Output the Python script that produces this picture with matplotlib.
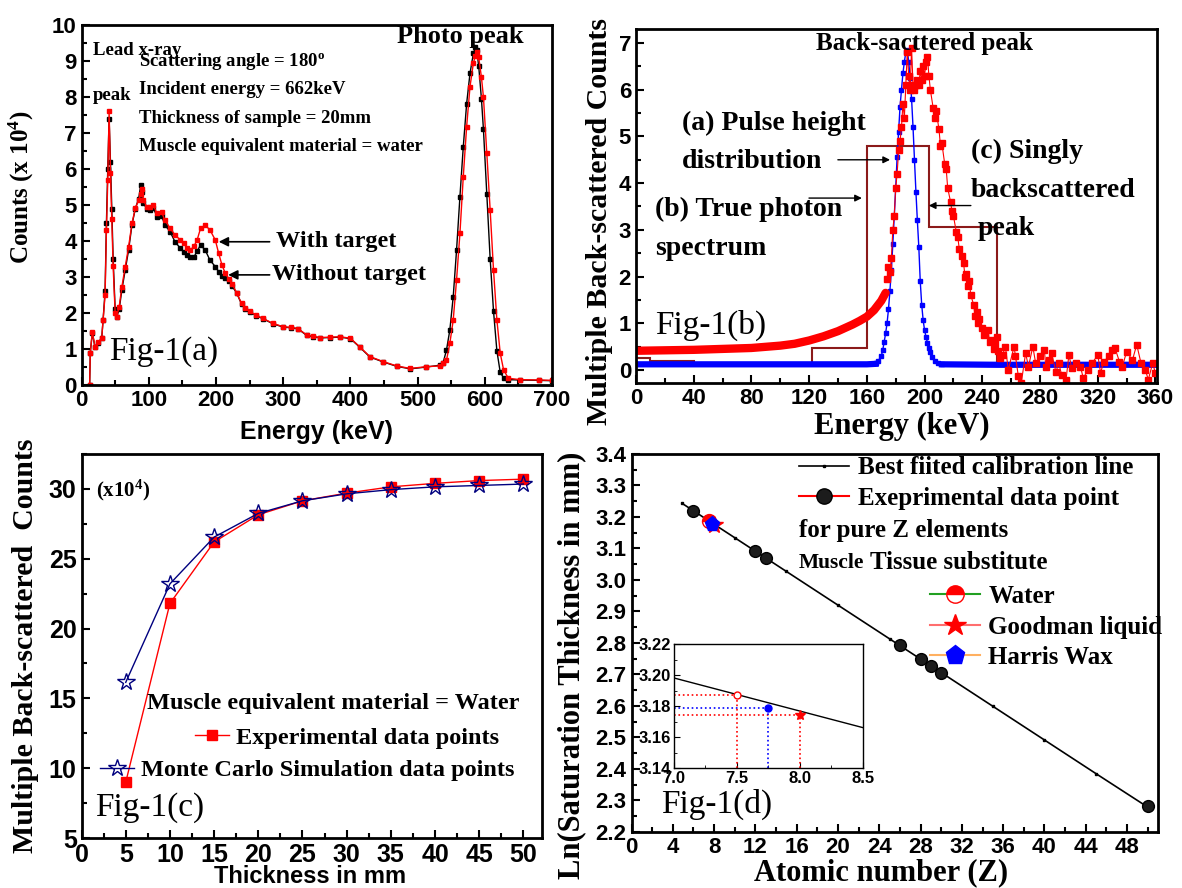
import matplotlib
matplotlib.use('Agg')
import matplotlib.pyplot as plt
from matplotlib.ticker import MultipleLocator
from matplotlib.lines import Line2D

SERIF = 'Liberation Serif'
SANS = 'Liberation Sans'
plt.rcParams['font.family'] = [SANS, 'DejaVu Sans']
plt.rcParams['font.weight'] = 'bold'
plt.rcParams['axes.labelweight'] = 'bold'
plt.rcParams['mathtext.default'] = 'regular'

# ---------------- Fig-1(a): spectra with / without target (counts x 1e4)
energy_a = [12, 13, 16, 20, 25, 30, 32, 35, 37, 39,
            41, 43, 45, 47, 50, 52, 56, 60, 65, 70,
            75, 80, 85, 88, 90, 92, 97, 102, 107, 112,
            119, 124, 132, 139, 147, 152, 157, 162, 167, 172,
            177, 184, 191, 199, 204, 209, 214, 219, 224, 231,
            238, 243, 250, 260, 270, 285, 300, 312, 322, 335,
            345, 355, 370, 385, 400, 414, 429, 449, 469, 489,
            513, 533, 538, 543, 548, 553, 558, 563, 568, 573,
            578, 583, 586, 588, 591, 595, 598, 603, 608, 613,
            618, 623, 628, 635, 652, 680, 700]
with_target = [0, 0.9, 1.48, 1.06, 1.2, 1.3, 1.8, 2.5, 4.3, 5.7,
               7.6, 5.9, 4.6, 3.3, 2.0, 1.9, 2.18, 2.73, 3.29, 3.84,
               4.49, 4.91, 5.14, 5.3, 5.45, 5.14, 4.95, 4.95, 5.0, 4.77,
               4.81, 4.58, 4.35, 4.17, 4.03, 3.94, 3.8, 3.75, 3.85, 4.03,
               4.35, 4.44, 4.31, 4.03, 3.66, 3.33, 3.1, 2.95, 2.82, 2.55,
               2.27, 2.13, 2.05, 1.94, 1.85, 1.71, 1.62, 1.6, 1.57, 1.39,
               1.35, 1.32, 1.33, 1.34, 1.3, 1.06, 0.79, 0.65, 0.53, 0.46,
               0.51, 0.53, 0.6, 0.69, 1.16, 1.8, 2.92, 4.21, 5.79, 7.18,
               8.29, 8.94, 9.15, 9.26, 9.1, 8.55, 8.0, 6.44, 4.86, 3.19,
               1.81, 0.88, 0.42, 0.19, 0.15, 0.14, 0.13]
without_target = [0, 0.9, 1.45, 1.05, 1.18, 1.3, 1.8, 2.6, 4.5, 6.0,
                  7.4, 6.2, 4.9, 3.5, 2.1, 1.88, 2.1, 2.65, 3.2, 3.75,
                  4.45, 4.9, 5.18, 5.55, 5.35, 5.05, 4.9, 4.85, 4.92, 4.68,
                  4.7, 4.45, 4.25, 3.98, 3.8, 3.7, 3.6, 3.56, 3.55, 3.72,
                  3.89, 3.75, 3.47, 3.29, 3.15, 3.03, 2.96, 2.9, 2.75, 2.55,
                  2.25, 2.12, 2.03, 1.93, 1.84, 1.7, 1.61, 1.59, 1.56, 1.38,
                  1.34, 1.31, 1.32, 1.33, 1.29, 1.05, 0.78, 0.64, 0.52, 0.45,
                  0.5, 0.55, 0.62, 0.97, 1.53, 2.45, 3.75, 5.23, 6.62, 7.82,
                  8.66, 9.21, 9.38, 9.3, 8.85, 7.95, 7.1, 5.3, 3.5, 2.05,
                  0.95, 0.35, 0.2, 0.15, 0.14, 0.13, 0.12]

# ---------------- Fig-1(b): back-scattered spectra
photon_e = [0, 20, 40, 60, 80, 100, 110, 120, 130, 140, 150, 155, 160, 165, 170, 173]
photon_counts = [0.41, 0.42, 0.43, 0.45, 0.47, 0.52, 0.56, 0.63, 0.72, 0.83,
                 0.97, 1.05, 1.14, 1.28, 1.48, 1.65]
meas_e = [174, 175, 176, 177, 178, 179, 180, 181, 182, 183,
          184, 185, 186, 187, 188, 189, 190, 191, 192, 193,
          194, 195, 196, 197, 198, 199, 200, 201, 202, 203,
          204, 206, 207, 208, 210, 211, 212, 214, 215, 216,
          218, 219, 220, 222, 223, 224, 226, 227, 228, 229,
          230, 231, 232, 234, 235, 236, 237, 238, 240, 241,
          242, 244, 245, 246, 248, 249, 250, 251, 252,
          254, 256, 258, 262, 263, 265, 267, 270, 272, 275,
          277, 280, 283, 284, 286, 288, 291, 293, 295, 298,
          300, 302, 305, 308, 310, 313, 316, 320, 322, 324,
          328, 330, 332, 335, 337, 340, 344, 347, 350, 353,
          355, 358, 360]
meas_counts = [1.95, 2.2, 2.1, 2.4, 3.0, 3.3, 3.9, 4.2, 4.7, 4.9,
               5.2, 5.7, 5.4, 6.1, 6.8, 6.3, 6.0, 6.9, 6.1, 6.0,
               6.1, 6.2, 6.1, 6.4, 6.2, 6.5, 6.3, 6.6, 6.7, 6.3,
               6.0, 5.6, 5.4, 5.55, 5.15, 4.8, 4.85, 4.4, 4.3, 3.9,
               3.6, 3.4, 3.3, 2.95, 2.85, 2.6, 2.45, 2.3, 2.0, 2.05,
               1.8, 1.9, 1.6, 1.4, 1.15, 1.25, 1.0, 1.1, 0.9, 0.75,
               0.8, 0.85, 0.6, 0.65, 0.45, 0.55, 0.7, 0.4, 0.25,
               0.32, 0.5, 0.0, 0.5, 0.29, -0.14, -0.28, 0.36, 0.07, 0.5,
               0.14, 0.29, 0.43, 0.07, 0.21, 0.36, -0.04, 0.14, -0.11, -0.21,
               0.32, 0.04, 0.14, 0.07, -0.18, 0.0, 0.14, 0.32, -0.07, 0.18,
               0.29, 0.43, 0.46, 0.18, 0.07, 0.39, 0.21, 0.54, 0.14, 0.0,
               -0.21, 0.14, -0.07]
single_base_left_e = [0, 40, 80, 120, 160, 166]
single_base_left = [0.12, 0.12, 0.12, 0.12, 0.12, 0.13]
single_peak_e = [166, 168, 170, 171, 172, 173, 174, 175, 176, 177,
                 178, 179, 180, 181, 182, 183, 184, 185, 186, 187,
                 188, 189, 190, 191, 192, 193, 194, 195, 196, 197,
                 198, 199, 200, 201, 202, 203, 204, 205, 207, 209, 212]
single_peak = [0.14, 0.2, 0.3, 0.42, 0.6, 0.78, 1.0, 1.3, 1.7, 2.14,
               2.7, 3.29, 3.9, 4.57, 5.1, 5.64, 6.0, 6.35, 6.6, 6.8,
               6.85, 6.6, 6.25, 5.8, 5.2, 4.5, 3.82, 3.2, 2.64, 1.9,
               1.4, 1.07, 0.85, 0.71, 0.58, 0.48, 0.38, 0.28, 0.2, 0.15, 0.12]
single_base_right_e = [212, 250, 300, 362]
single_base_right = [0.12, 0.11, 0.11, 0.11]
pulse_edges = [0, 10, 40, 122, 160, 203, 250, 362]
pulse_counts = [0.25, 0.19, 0.12, 0.46, 4.8, 3.05, 0.12]

# ---------------- Fig-1(c): saturation curve (counts x 1e4)
thickness = [5, 10, 15, 20, 25, 30, 35, 40, 45, 50]
exp_counts = [9.0, 21.8, 26.2, 28.15, 29.15, 29.7, 30.15, 30.4, 30.6, 30.7]
mc_counts = [16.15, 23.2, 26.55, 28.25, 29.15, 29.65, 29.95, 30.15, 30.25, 30.35]

# ---------------- Fig-1(d): calibration
calib_z = [4.9, 10, 15, 20, 25, 30, 35, 40, 45, 50]
calib_ln = [3.243, 3.134, 3.027, 2.920, 2.813, 2.706, 2.599, 2.492, 2.385, 2.279]
pure_z = [6, 12, 13, 26, 28, 29, 30, 50]
pure_ln = [3.22, 3.092, 3.071, 2.793, 2.75, 2.728, 2.706, 2.281]
sub_names = ['Water', 'Goodman liquid', 'Harris Wax']
sub_z = [7.5, 8.0, 7.75]
sub_ln = [3.187, 3.174, 3.179]


def style(ax, xmaj, ymaj, size):
    ax.xaxis.set_major_locator(MultipleLocator(xmaj))
    ax.xaxis.set_minor_locator(MultipleLocator(xmaj / 2))
    ax.yaxis.set_major_locator(MultipleLocator(ymaj))
    ax.yaxis.set_minor_locator(MultipleLocator(ymaj / 2))
    ax.tick_params(which='both', direction='in', width=1.5, labelsize=size)
    ax.tick_params(which='major', length=6)
    ax.tick_params(which='minor', length=3.5)
    for sp in ax.spines.values():
        sp.set_linewidth(2)


def serif(ax, x, y, s, size, **kw):
    kw.setdefault('va', 'center')
    kw.setdefault('weight', 'bold')
    return ax.text(x, y, s, family=SERIF, fontsize=size, **kw)


fig = plt.figure(figsize=(11.82, 8.88), dpi=100)

# ================= (a)
ax = fig.add_axes([0.069, 0.5664, 0.398, 0.4054])
ax.plot(energy_a, without_target, color='black', lw=1, marker='s', ms=2.5)
ax.plot(energy_a, with_target, color='red', lw=1, marker='s', ms=2.5)
ax.set_xlim(0, 700)
ax.set_ylim(0, 10)
style(ax, 100, 1, 16)
ax.set_xlabel('Energy (keV)', fontsize=18)
ax.xaxis.set_label_coords(0.5, -0.13)
ax.xaxis.label.set_va('center')
ax.set_ylabel('Counts (x 10$^4$)', family=SERIF, fontsize=18)
ax.yaxis.set_label_coords(-0.127, 0.55)
ax.yaxis.label.set_va('center')
serif(ax, 17, 9.3, 'Lead x-ray', 13.5)
serif(ax, 17, 8.05, 'peak', 13.5)
serif(ax, 86, 8.98, 'Scattering angle = 180$^{o}$', 13.5)
serif(ax, 86, 8.21, 'Incident energy = 662keV', 13.5)
serif(ax, 86, 7.41, 'Thickness of sample = 20mm', 13.5)
serif(ax, 86, 6.62, 'Muscle equivalent material = water', 13.5)
serif(ax, 469, 9.67, 'Photo peak', 19)
serif(ax, 290, 3.98, 'With target', 17.5)
serif(ax, 283, 3.06, 'Without target', 17.5)
ax.annotate('', xy=(200, 3.98), xytext=(284, 3.98),
            arrowprops=dict(arrowstyle='-|>', color='black', lw=1.2, mutation_scale=14))
ax.annotate('', xy=(214, 3.06), xytext=(284, 3.06),
            arrowprops=dict(arrowstyle='-|>', color='black', lw=1.2, mutation_scale=14))
serif(ax, 41, 0.93, 'Fig-1(a)', 24, weight='normal')

# ================= (b)
ax = fig.add_axes([0.538, 0.5687, 0.4408, 0.3986])
ax.stairs(pulse_counts, pulse_edges, baseline=None, color='#8B1A1A', lw=1.5)
ax.plot(single_base_left_e, single_base_left, color='blue', lw=4.5)
ax.plot(single_base_right_e, single_base_right, color='blue', lw=4.5)
ax.plot(single_peak_e, single_peak, color='blue', lw=1, marker='s', ms=3.5)
ax.plot(photon_e, photon_counts, color='red', lw=6, solid_capstyle='round')
ax.plot(meas_e, meas_counts, color='red', lw=0.8, marker='s', ms=4)
ax.set_xlim(0, 361)
ax.set_ylim(-0.28, 7.3)
style(ax, 40, 1, 16)
ax.set_xlabel('Energy (keV)', family=SERIF, fontsize=22)
ax.xaxis.set_label_coords(0.51, -0.124)
ax.xaxis.label.set_va('center')
ax.set_ylabel('Multiple Back-scattered Counts', family=SERIF, fontsize=21.5)
ax.yaxis.set_label_coords(-0.069, 0.455)
ax.yaxis.label.set_va('center')
serif(ax, 124.5, 7.0, 'Back-sacttered peak', 18)
serif(ax, 32, 5.28, '(a) Pulse height', 20)
serif(ax, 32, 4.46, 'distribution', 20)
serif(ax, 13, 3.43, '(b) True photon', 20)
serif(ax, 13, 2.61, 'spectrum', 20)
serif(ax, 232, 4.67, '(c) Singly', 20)
serif(ax, 232, 3.85, 'backscattered', 20)
serif(ax, 237, 3.03, 'peak', 20)
arrow_kw = dict(arrowstyle='-|>', color='black', lw=1, mutation_scale=10)
ax.annotate('', xy=(178, 4.5), xytext=(138, 4.5), arrowprops=arrow_kw)
ax.annotate('', xy=(158.5, 3.68), xytext=(118, 3.68), arrowprops=arrow_kw)
ax.annotate('', xy=(201, 3.52), xytext=(234, 3.52), arrowprops=arrow_kw)
serif(ax, 13, 0.96, 'Fig-1(b)', 24, weight='normal')

# ================= (c)
ax = fig.add_axes([0.069, 0.0563, 0.3895, 0.4324])
exp_line, = ax.plot(thickness, exp_counts, color='red', lw=1, marker='s', ms=7)
mc_line, = ax.plot(thickness, mc_counts, color='#00007F', lw=1, marker='*', ms=13,
                   mfc='none', mec='#00007F', mew=1)
ax.set_xlim(0, 52.1)
ax.set_ylim(5, 32.5)
style(ax, 5, 5, 18)
ax.set_xlabel('Thickness in mm', fontsize=17)
ax.xaxis.set_label_coords(0.496, -0.10)
ax.xaxis.label.set_va('center')
ax.set_ylabel('Multiple Back-scattered  Counts', family=SERIF, fontsize=21.5)
ax.yaxis.set_label_coords(-0.121, 0.5)
ax.yaxis.label.set_va('center')
serif(ax, 1.6, 29.9, '(x10$^4$)', 15)
serif(ax, 7.35, 14.6, 'Muscle equivalent material = Water', 17.5)
leg_kw = dict(frameon=False, borderpad=0, borderaxespad=0, handletextpad=0.3,
              prop=dict(family=SERIF, weight='bold', size=17.5))
leg1 = ax.legend([exp_line], ['Experimental data points'], loc='center left',
                 bbox_to_anchor=(0.246, 0.261), handlelength=1.4, **leg_kw)
ax.add_artist(leg1)
ax.legend([mc_line], ['Monte Carlo Simulation data points'], loc='center left',
          bbox_to_anchor=(0.039, 0.177), handlelength=1.4, **leg_kw)
serif(ax, 1.5, 7.2, 'Fig-1(c)', 24, weight='normal')

# ================= (d)
ax = fig.add_axes([0.5343, 0.0631, 0.4454, 0.4257])
calib_line, = ax.plot(calib_z, calib_ln, color='black', lw=1.2, marker='s', ms=2)
ax.plot(pure_z, pure_ln, ls='none', marker='o', ms=8.5, mfc='#1c1c1c', mec='black')
sub_styles = [dict(color='#22A022', marker='o', ms=10, fillstyle='top', mfc='red',
                   markerfacecoloralt='white', mec='red'),
              dict(color='#FF6E6E', marker='*', ms=13, mfc='red', mec='red'),
              dict(color='#FFB060', marker='p', ms=11, mfc='blue', mec='blue')]
sub_lines = []
for z, v, st in zip(sub_z, sub_ln, sub_styles):
    ln, = ax.plot([z], [v], lw=1.5, **st)
    sub_lines.append(ln)
ax.set_xlim(0, 51)
ax.set_ylim(2.2, 3.4)
style(ax, 4, 0.1, 16)
ax.yaxis.set_major_formatter(plt.FormatStrFormatter('%.1f'))
ax.set_xlabel('Atomic number (Z)', family=SERIF, fontsize=22)
ax.xaxis.set_label_coords(0.474, -0.108)
ax.xaxis.label.set_va('center')
ax.set_ylabel('Ln(Saturation Thickness in mm)', family=SERIF, fontsize=22)
ax.yaxis.set_label_coords(-0.113, 0.44)
ax.yaxis.label.set_va('center')
pure_proxy = Line2D([], [], color='red', lw=1.5, marker='o', ms=11,
                    mfc='#1c1c1c', mec='black')
leg_kw = dict(frameon=False, borderpad=0, borderaxespad=0, handletextpad=0.35,
              labelspacing=0.3, handlelength=2.0,
              prop=dict(family=SERIF, weight='bold', size=18))
leg1 = ax.legend([calib_line, pure_proxy],
                 ['Best fiited calibration line', 'Exeprimental data point'],
                 loc='center left', bbox_to_anchor=(0.318, 0.923), **leg_kw)
ax.add_artist(leg1)
ax.legend(sub_lines, sub_names, loc='center left', bbox_to_anchor=(0.566, 0.542),
          markerscale=1.25, **leg_kw)
serif(ax, 0.318, 0.797, 'for pure Z elements', 18, transform=ax.transAxes)
serif(ax, 0.318, 0.712, 'Muscle', 15.5, transform=ax.transAxes)
serif(ax, 0.452, 0.712, 'Tissue substitute', 18, transform=ax.transAxes)
serif(ax, 0.057, 0.072, 'Fig-1(d)', 24, weight='normal', transform=ax.transAxes)

# inset
ax_in = fig.add_axes([0.5702, 0.1351, 0.1599, 0.1396])
ax_in.plot(calib_z, calib_ln, color='black', lw=1)
in_colors = ['red', 'red', 'blue']
ax_in.hlines(sub_ln, 7.0, sub_z, colors=in_colors, linestyles=':', lw=1.2)
ax_in.vlines(sub_z, 3.14, sub_ln, colors=in_colors, linestyles=':', lw=1.2)
in_styles = [dict(marker='o', ms=5, mfc='white', mec='red'),
             dict(marker='*', ms=7, mfc='red', mec='red'),
             dict(marker='o', ms=5, mfc='blue', mec='blue')]
for z, v, st in zip(sub_z, sub_ln, in_styles):
    ax_in.plot([z], [v], ls='none', **st)
ax_in.set_xlim(7.0, 8.5)
ax_in.set_ylim(3.14, 3.22)
ax_in.xaxis.set_major_locator(MultipleLocator(0.5))
ax_in.xaxis.set_minor_locator(MultipleLocator(0.25))
ax_in.yaxis.set_major_locator(MultipleLocator(0.02))
ax_in.yaxis.set_minor_locator(MultipleLocator(0.01))
ax_in.xaxis.set_major_formatter(plt.FormatStrFormatter('%.1f'))
ax_in.yaxis.set_major_formatter(plt.FormatStrFormatter('%.2f'))
ax_in.tick_params(which='both', direction='in', labelsize=12, pad=2)
ax_in.tick_params(which='major', length=4)
ax_in.tick_params(which='minor', length=2)
for sp in ax_in.spines.values():
    sp.set_linewidth(1)

fig.savefig('out.png', dpi=100)
